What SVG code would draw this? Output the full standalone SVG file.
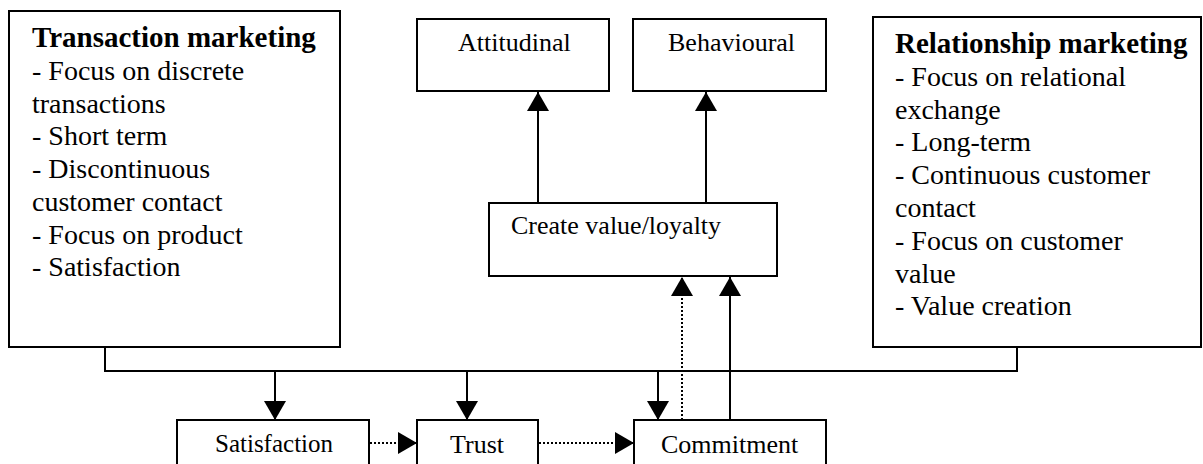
<svg xmlns="http://www.w3.org/2000/svg" width="1203" height="464" viewBox="0 0 1203 464">
<style>
.box{fill:#fff;stroke:#000;stroke-width:2}
.t{font-family:"Liberation Serif","Times New Roman",serif;fill:#000}
.big{font-size:28px}
.bold{font-weight:bold;font-size:29px}
.sm{font-size:26px}
.ln{fill:none;stroke:#000;stroke-width:2}
.dot{fill:none;stroke:#000;stroke-width:2;stroke-dasharray:2 2}
</style>
<defs>
<marker id="ah" markerUnits="userSpaceOnUse" markerWidth="20" markerHeight="22" refX="19" refY="11" orient="auto" viewBox="0 0 20 22">
<path d="M0,0 L19,11 L0,22 z" fill="#000"/>
</marker>
</defs>
<g id="transaction">
<rect class="box" x="9" y="11" width="331" height="336"/>
<text class="t big">
<tspan class="bold" x="32" y="47">Transaction marketing</tspan>
<tspan x="32" y="80">- Focus on discrete</tspan>
<tspan x="32" y="113">transactions</tspan>
<tspan x="32" y="145">- Short term</tspan>
<tspan x="32" y="178">- Discontinuous</tspan>
<tspan x="32" y="211">customer contact</tspan>
<tspan x="32" y="244">- Focus on product</tspan>
<tspan x="32" y="276">- Satisfaction</tspan>
</text>
</g>
<g id="relationship">
<rect class="box" x="873" y="17" width="328" height="330"/>
<text class="t big">
<tspan class="bold" x="895" y="53">Relationship marketing</tspan>
<tspan x="895" y="86">- Focus on relational</tspan>
<tspan x="895" y="119">exchange</tspan>
<tspan x="895" y="151">- Long-term</tspan>
<tspan x="895" y="184">- Continuous customer</tspan>
<tspan x="895" y="217">contact</tspan>
<tspan x="895" y="250">- Focus on customer</tspan>
<tspan x="895" y="283">value</tspan>
<tspan x="895" y="315">- Value creation</tspan>
</text>
</g>
<g id="attitudinal">
<rect class="box" x="417" y="19" width="192" height="72"/>
<text class="t sm" x="458" y="51">Attitudinal</text>
</g>
<g id="behavioural">
<rect class="box" x="633" y="19" width="193" height="72"/>
<text class="t sm" x="668" y="51">Behavioural</text>
</g>
<g id="create">
<rect class="box" x="489" y="203" width="288" height="73"/>
<text class="t sm" x="511" y="234">Create value/loyalty</text>
</g>
<g id="satisfaction">
<rect class="box" x="177" y="420" width="192" height="70"/>
<text class="t" style="font-size:25px" x="215" y="452">Satisfaction</text>
</g>
<g id="trust">
<rect class="box" x="417" y="420" width="121" height="70"/>
<text class="t sm" x="450" y="453">Trust</text>
</g>
<g id="commitment">
<rect class="box" x="634" y="420" width="192" height="70"/>
<text class="t sm" x="661" y="453">Commitment</text>
</g>
<g id="connectors">
<path class="ln" d="M105,347 V371 H1017 V347"/>
<line class="ln" x1="275" y1="371" x2="275" y2="420" marker-end="url(#ah)"/>
<line class="ln" x1="467" y1="371" x2="467" y2="420" marker-end="url(#ah)"/>
<line class="ln" x1="658" y1="371" x2="658" y2="420" marker-end="url(#ah)"/>
<line class="dot" x1="370" y1="443" x2="417" y2="443" marker-end="url(#ah)"/>
<line class="dot" x1="539" y1="443" x2="634" y2="443" marker-end="url(#ah)"/>
<line class="dot" x1="682" y1="420" x2="682" y2="277" marker-end="url(#ah)"/>
<line class="ln" x1="730" y1="420" x2="730" y2="277" marker-end="url(#ah)"/>
<line class="ln" x1="538" y1="203" x2="538" y2="92" marker-end="url(#ah)"/>
<line class="ln" x1="706" y1="203" x2="706" y2="92" marker-end="url(#ah)"/>
</g>
</svg>
